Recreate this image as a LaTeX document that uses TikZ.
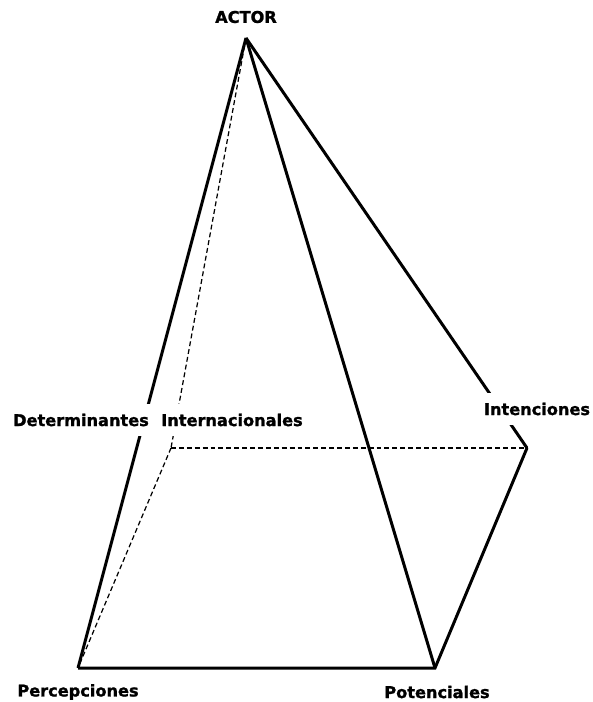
\documentclass[tikz,border=0pt]{standalone}
\usepackage{fontspec}
\setmainfont{DejaVu Sans}[BoldFeatures={FakeBold=1.3}]
\usepackage{tikz}

\tikzset{
	edge/.style={line width=1.7pt, line join=miter},
	hidden/.style={line width=0.7pt, dash pattern=on 2.8pt off 1.7pt},
	lbl/.style={fill=white, inner xsep=1pt, inner ysep=0.2cm, font=\fontsize{9.2}{11}\selectfont\bfseries}
}

\begin{document}
\begin{tikzpicture}[x=0.02cm, y=-0.02cm]
	\useasboundingbox (0,0) rectangle (592,702);

	% corners
	\coordinate (apex)  at (246, 38);
	\coordinate (frontL) at ( 78,668);
	\coordinate (frontR) at (435,668);
	\coordinate (backR) at (527,448);
	\coordinate (backL) at (171,448);

	% hidden edges
	\draw[hidden] (apex) -- (backL);
	\draw[hidden] (backL) -- (backR);
	\draw[hidden] (backL) -- (frontL);

	% visible edges
	\draw[edge] (apex) -- (frontL);
	\draw[edge] (apex) -- (frontR);
	\draw[edge] (apex) -- (backR);
	\draw[edge] (frontL) -- (frontR) -- (backR);

	% labels
	\node[lbl] (actor)  at (246, 17) {ACTOR};
	\node[lbl] (determ) at ( 81,420) {Determinantes};
	\node[lbl] (intern) at (232,420) {Internacionales};
	\node[lbl] (intenc) at (537,409) {Intenciones};
	\node[lbl] (percep) at ( 78,692) {Percepciones};
	\node[lbl] (potenc) at (437,692) {Potenciales};
\end{tikzpicture}
\end{document}
